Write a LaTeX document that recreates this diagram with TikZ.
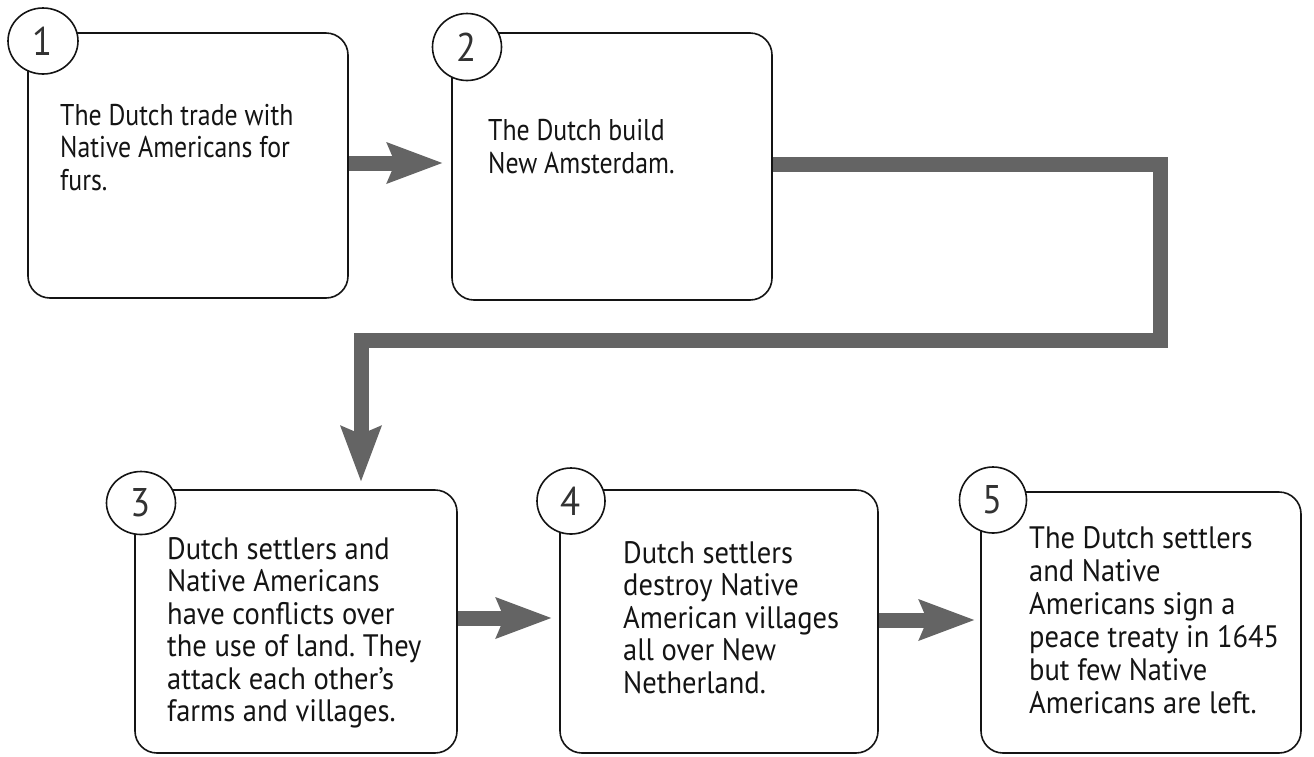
\documentclass[tikz,border=0pt]{standalone}
\usepackage{fontspec}
\setmainfont{PT Sans}[FakeStretch=0.92]
\newfontfamily\topfont{PT Sans}[FakeStretch=0.86]
\usetikzlibrary{arrows.meta,shapes.geometric}
\definecolor{arrowgray}{RGB}{100,100,100}
\definecolor{digitgray}{RGB}{50,50,50}
\definecolor{inkblack}{RGB}{20,20,20}
\begin{document}
\frenchspacing
\begin{tikzpicture}[x=1pt,y=-1pt,
  stepbox/.style={draw=inkblack, line width=1.6pt, rounded corners=22pt, rectangle, inner sep=0pt},
  numcirc/.style={ellipse, draw=inkblack, line width=1.6pt, fill=white, inner sep=0pt,
    font=\fontsize{40}{40}\selectfont, text=digitgray},
  txt/.style={anchor=base west, inner sep=0pt, text=inkblack, font=\fontsize{31}{32.5}\selectfont},
  toptxt/.style={txt, font={\topfont\fontsize{30}{32.5}\selectfont}},
  flow/.style={draw=arrowgray, line width=15pt, line join=miter,
    -{Stealth[length=56pt,width=42pt,inset=9pt,line width=0pt]}}]
\fill[white] (0,0) rectangle (1314,756);
\useasboundingbox (0,0) rectangle (1314,756);

% boxes
\node[stepbox, minimum width=320pt, minimum height=265pt] (b1) at (188,165.5) {};
\node[stepbox, minimum width=320pt, minimum height=267pt] (b2) at (612,166.5) {};
\node[stepbox, minimum width=322pt, minimum height=263pt] (b3) at (296,621.5) {};
\node[stepbox, minimum width=318pt, minimum height=263pt] (b4) at (719,621.5) {};
\node[stepbox, minimum width=320pt, minimum height=261pt] (b5) at (1141,622.5) {};

% number circles
\node[numcirc, minimum width=70pt, minimum height=66pt] (c1) at (43,41) {1};
\node[numcirc, minimum width=69pt, minimum height=67pt] (c2) at (467,47) {2};
\node[numcirc, minimum width=69pt, minimum height=63pt] (c3) at (141,503) {3};
\node[numcirc, minimum width=68pt, minimum height=66pt] (c4) at (571,501) {4};
\node[numcirc, minimum width=67pt, minimum height=66pt] (c5) at (993,500) {5};

% texts
\node[toptxt] (t1) at (60,125) {\parbox[t]{400pt}{\raggedright The Dutch trade with\\Native Americans for\\furs.}};
\node[toptxt, font={\topfont\fontsize{30}{33}\selectfont}] (t2) at (488,140) {\parbox[t]{400pt}{\raggedright The Dutch build\\New Amsterdam.}};
\node[txt] (t3) at (167,559) {\parbox[t]{400pt}{\raggedright Dutch settlers and\\Native Americans\\have conflicts over\\the use of land. They\\attack each other’s\\farms and villages.}};
\node[txt] (t4) at (623,563) {\parbox[t]{400pt}{\raggedright Dutch settlers\\destroy Native\\American villages\\all over New\\Netherland.}};
\node[txt, font=\fontsize{31}{33}\selectfont] (t5) at (1029,548) {\parbox[t]{400pt}{\raggedright The Dutch settlers\\and Native\\Americans sign a\\peace treaty in 1645\\but few Native\\Americans are left.}};

% connectors
\coordinate (k1) at (1160,164);
\coordinate (k2) at (1160,340);
\coordinate (k3) at (361,340);
\draw[flow, shorten >=9pt] (b1.east |- 0,163) -- (b2.west |- 0,163);
\draw[flow, shorten >=8pt] (b2.east |- k1) -- (k1) -- (k2) -- (k3) -- (b3.north -| k3);
\draw[flow, shorten >=8pt] (b3.east |- 0,618) -- (b4.west |- 0,618);
\draw[flow, shorten >=6pt] (b4.east |- 0,620) -- (b5.west |- 0,620);
\end{tikzpicture}
\end{document}
